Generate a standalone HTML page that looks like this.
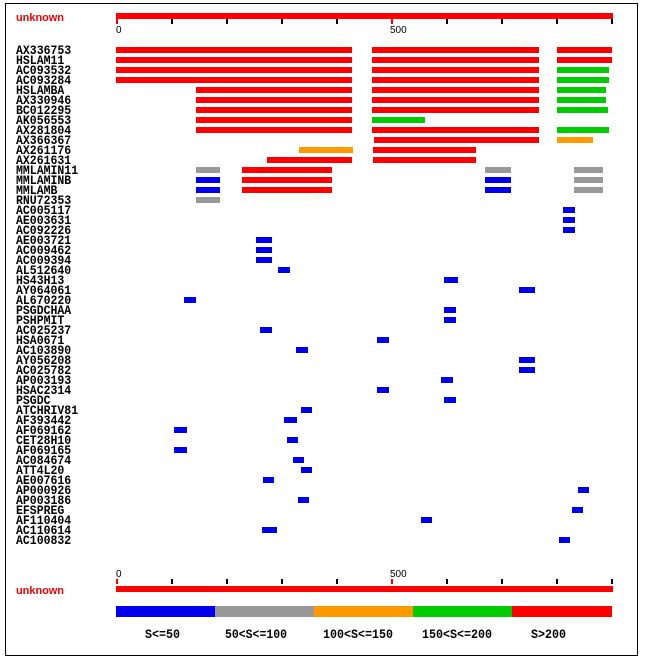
<!DOCTYPE html>
<html><head><meta charset="utf-8"><style>
html,body{margin:0;padding:0;background:#fff;}
svg{display:block;}
.l{font-family:"Liberation Mono",monospace;font-weight:bold;font-size:13px;fill:#000;}
.s{font-family:"Liberation Sans",sans-serif;font-size:10px;fill:#000;}
</style></head><body>
<svg width="645" height="660" xmlns="http://www.w3.org/2000/svg">
<rect x="5.5" y="3.5" width="632" height="652" fill="#fff" stroke="#000" stroke-width="1"/>
<text x="16" y="21" font-family="Liberation Sans,sans-serif" font-weight="bold" font-size="11" fill="#e00" textLength="48" lengthAdjust="spacingAndGlyphs">unknown</text>
<rect x="116" y="13" width="497" height="6" fill="#f00"/>
<g fill="#000">
<rect x="116" y="19" width="2" height="5" fill="#f00"/><rect x="171" y="19" width="2" height="5"/><rect x="226" y="19" width="2" height="5"/><rect x="281" y="19" width="2" height="5"/><rect x="336" y="19" width="2" height="5"/><rect x="391" y="19" width="2" height="5" fill="#f00"/><rect x="446" y="19" width="2" height="5"/><rect x="501" y="19" width="2" height="5"/><rect x="556" y="19" width="2" height="5"/><rect x="611" y="19" width="2" height="5"/>
</g>
<text class="s" x="116" y="33">0</text><text class="s" x="390" y="33">500</text>

<g id="labels"></g>
<g id="bars"></g>

<g fill="#000">
<rect x="116" y="579" width="2" height="5" fill="#f00"/><rect x="171" y="579" width="2" height="5"/><rect x="226" y="579" width="2" height="5"/><rect x="281" y="579" width="2" height="5"/><rect x="336" y="579" width="2" height="5"/><rect x="391" y="579" width="2" height="5" fill="#f00"/><rect x="446" y="579" width="2" height="5"/><rect x="501" y="579" width="2" height="5"/><rect x="556" y="579" width="2" height="5"/><rect x="611" y="579" width="2" height="5"/>
</g>
<text class="s" x="116" y="577">0</text><text class="s" x="390" y="577">500</text>
<rect x="116" y="586" width="497" height="6" fill="#f00"/>
<text x="16" y="594" font-family="Liberation Sans,sans-serif" font-weight="bold" font-size="11" fill="#e00" textLength="48" lengthAdjust="spacingAndGlyphs">unknown</text>
<rect x="116" y="606" width="99" height="11" fill="#0000ee"/>
<rect x="215" y="606" width="99" height="11" fill="#999"/>
<rect x="314" y="606" width="99" height="11" fill="#f90"/>
<rect x="413" y="606" width="99" height="11" fill="#0c0"/>
<rect x="512" y="606" width="100" height="11" fill="#f00"/>
<text class="l" x="145" y="638" textLength="35" lengthAdjust="spacingAndGlyphs">S&lt;=50</text>
<text class="l" x="225" y="638" textLength="62" lengthAdjust="spacingAndGlyphs">50&lt;S&lt;=100</text>
<text class="l" x="323" y="638" textLength="70" lengthAdjust="spacingAndGlyphs">100&lt;S&lt;=150</text>
<text class="l" x="422" y="638" textLength="70" lengthAdjust="spacingAndGlyphs">150&lt;S&lt;=200</text>
<text class="l" x="531" y="638" textLength="35" lengthAdjust="spacingAndGlyphs">S&gt;200</text>
</svg>
<script>
var names=["AX336753","HSLAM11","AC093532","AC093284","HSLAMBA","AX330946","BC012295","AK056553","AX281804","AX366367","AX261176","AX261631","MMLAMIN11","MMLAMINB","MMLAMB","RNU72353","AC005117","AE003631","AC092226","AE003721","AC009462","AC009394","AL512640","HS43H13","AY064061","AL670220","PSGDCHAA","PSHPMIT","AC025237","HSA0671","AC103890","AY056208","AC025782","AP003193","HSAC2314","PSGDC","ATCHRIV81","AF393442","AF069162","CET28H10","AF069165","AC084674","ATT4L20","AE007616","AP000926","AP003186","EFSPREG","AF110404","AC110614","AC100832"];
var R="#f00",G="#0c0",O="#f90",B="#0000ee",Y="#999";
var bars=[
[[116,352,R],[372,539,R],[557,612,R]],
[[116,352,R],[372,539,R],[557,612,R]],
[[116,352,R],[372,539,R],[557,609,G]],
[[116,352,R],[372,539,R],[557,609,G]],
[[196,352,R],[372,539,R],[557,606,G]],
[[196,352,R],[372,539,R],[557,606,G]],
[[196,352,R],[372,539,R],[557,608,G]],
[[196,352,R],[372,425,G]],
[[196,352,R],[372,539,R],[557,609,G]],
[[374,539,R],[557,593,O]],
[[299,353,O],[373,476,R]],
[[267,352,R],[373,476,R]],
[[196,220,Y],[242,332,R],[485,511,Y],[574,603,Y]],
[[196,220,B],[242,332,R],[485,511,B],[574,603,Y]],
[[196,220,B],[242,332,R],[485,511,B],[574,603,Y]],
[[196,220,Y]],
[[563,575,B]],[[563,575,B]],[[563,575,B]],
[[256,272,B]],[[256,272,B]],[[256,272,B]],
[[278,290,B]],
[[444,458,B]],[[519,535,B]],[[184,196,B]],[[444,456,B]],[[444,456,B]],[[260,272,B]],[[377,389,B]],[[296,308,B]],[[519,535,B]],[[519,535,B]],[[441,453,B]],[[377,389,B]],[[444,456,B]],[[301,312,B]],[[284,297,B]],[[174,187,B]],[[287,298,B]],[[174,187,B]],[[293,304,B]],[[301,312,B]],[[263,274,B]],[[578,589,B]],[[298,309,B]],[[572,583,B]],[[421,432,B]],[[262,277,B]],[[559,570,B]]
];
var NS="http://www.w3.org/2000/svg",L=document.getElementById("labels"),Bg=document.getElementById("bars");
names.forEach(function(n,i){var t=document.createElementNS(NS,"text");t.setAttribute("class","l");t.setAttribute("x",16);t.setAttribute("y",54+10*i);t.setAttribute("textLength",(n.length*6.9).toFixed(1));t.setAttribute("lengthAdjust","spacingAndGlyphs");t.textContent=n;L.appendChild(t);
(bars[i]||[]).forEach(function(b){var r=document.createElementNS(NS,"rect");r.setAttribute("x",b[0]);r.setAttribute("y",47+10*i);r.setAttribute("width",b[1]-b[0]);r.setAttribute("height",6);r.setAttribute("fill",b[2]);Bg.appendChild(r);});});
</script>
</body></html>
